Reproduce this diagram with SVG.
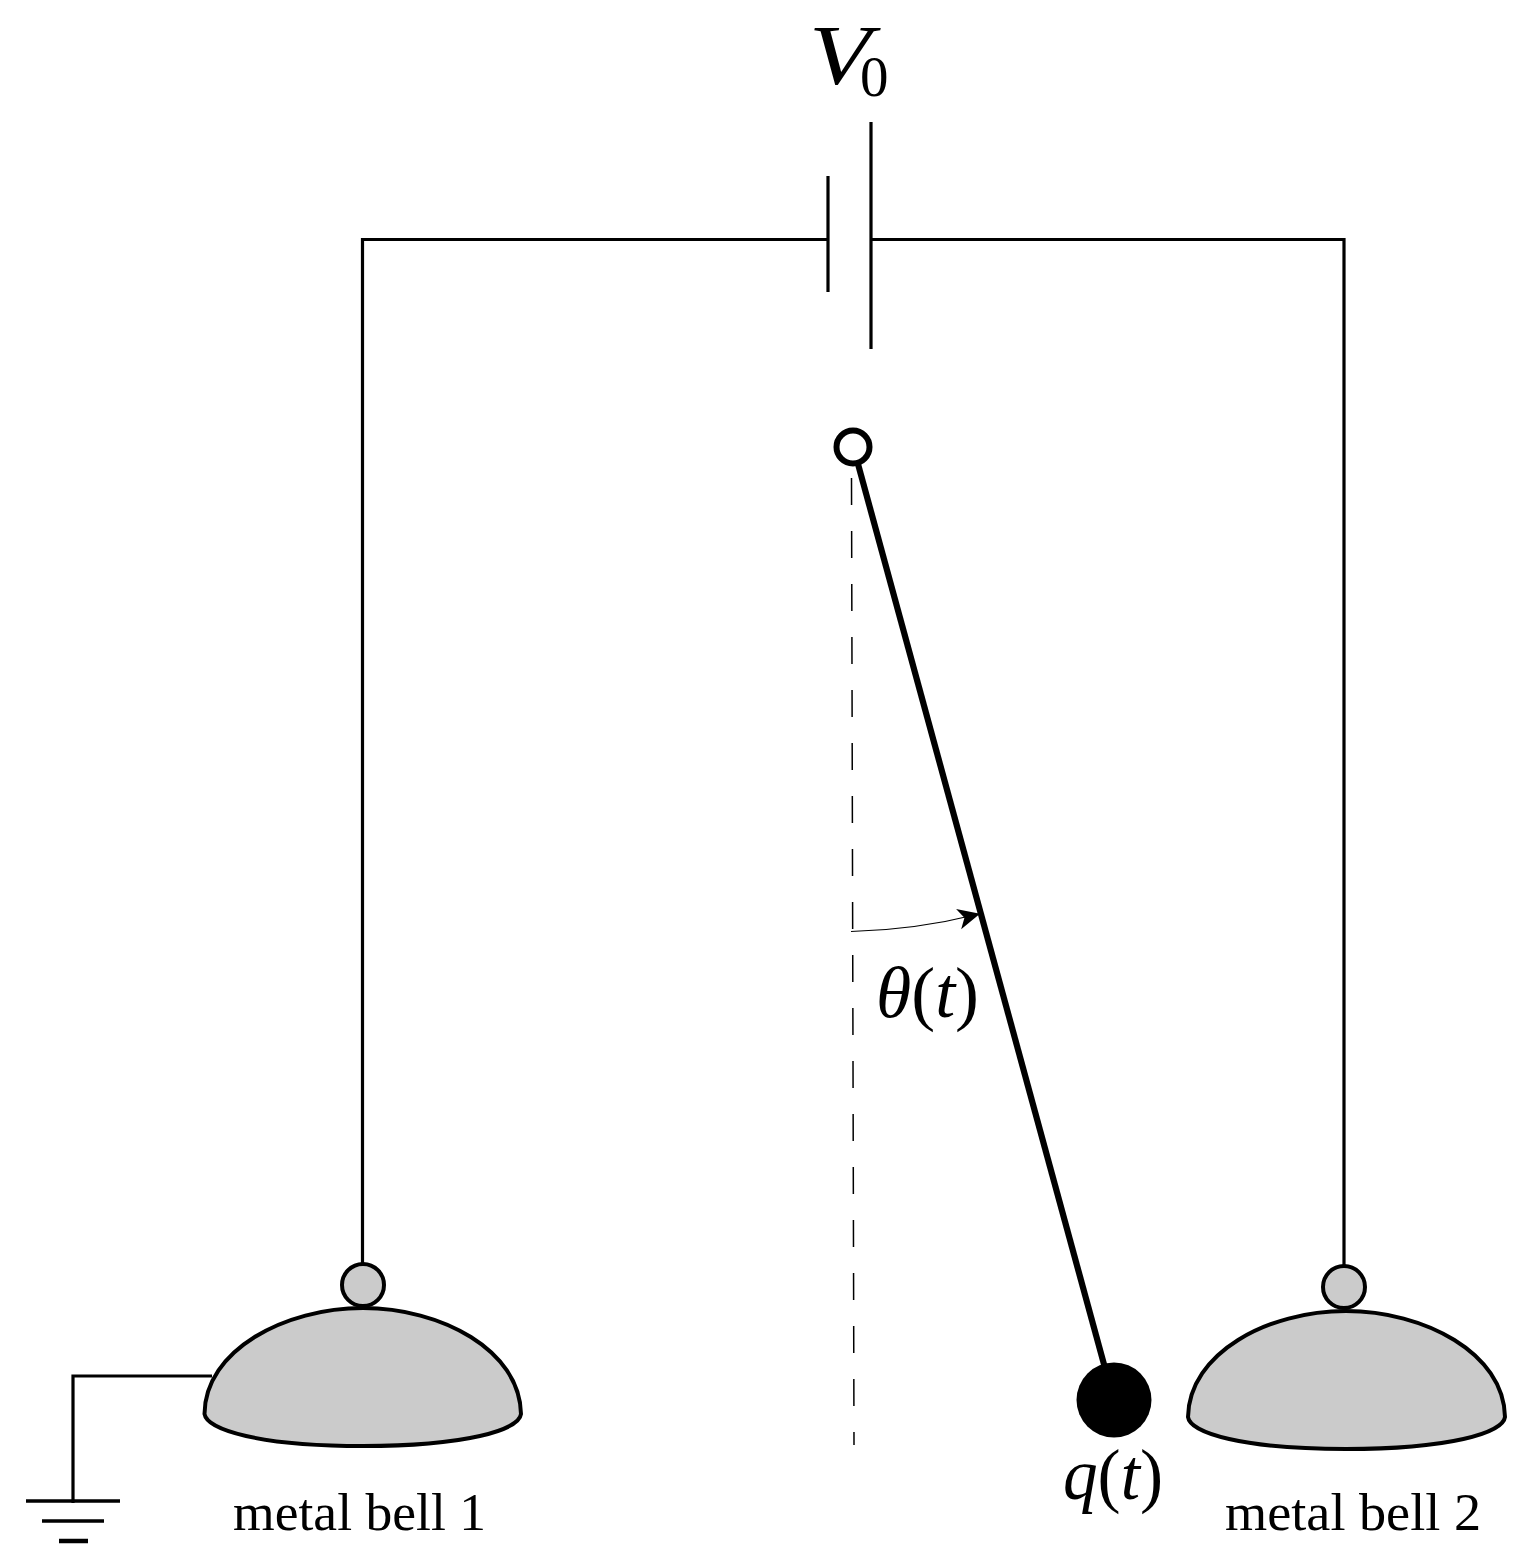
<svg xmlns="http://www.w3.org/2000/svg" width="1532" height="1567" viewBox="0 0 1532 1567">
<style>
.w{fill:none;stroke:#000;stroke-width:3.200}
.b{fill:#cbcbcb;stroke:#000;stroke-width:4}
text{font-family:"Liberation Serif","Times New Roman",serif;fill:#000}
.i{font-style:italic}
.l{font-size:53px}
</style>
<defs>
<marker id="ah" markerUnits="userSpaceOnUse" markerWidth="24" markerHeight="22" refX="21" refY="11" orient="auto"><path d="M0 0.500L22 11L0 21.500L6 11Z" fill="#000"/></marker>
</defs>
<rect width="1532" height="1567" fill="#fff"/>
<g id="connectors">
<path class="w" d="M362.500 1266V239.500H828"/>
<path class="w" d="M872 239.500H1344V1268"/>
<path class="w" d="M73 1503V1376H212"/>
<path d="M851.500 478L854 1445" fill="none" stroke="#000" stroke-width="1.500" stroke-dasharray="27 26"/>
<path d="M858 464L1105 1368" fill="none" stroke="#000" stroke-width="6.200"/>
<path d="M851 931.500Q915 930 979 914" fill="none" stroke="#000" stroke-width="1.200" marker-end="url(#ah)"/>
</g>
<g id="battery">
<path class="w" d="M828 176V292M871 122V349"/>
<text class="i" x="809" y="84" font-size="84" textLength="62" lengthAdjust="spacingAndGlyphs">V</text>
<text x="860" y="96" font-size="57">0</text>
</g>
<g id="pivot"><circle cx="853" cy="447" r="16.500" fill="#fff" stroke="#000" stroke-width="6"/></g>
<g id="charge"><circle cx="1114" cy="1400" r="37.500" fill="#000"/>
<text x="1063" y="1499" font-size="72" textLength="100" lengthAdjust="spacingAndGlyphs"><tspan class="i">q</tspan>(<tspan class="i">t</tspan>)</text></g>
<g id="angle"><text x="876" y="1017" font-size="72" textLength="103" lengthAdjust="spacingAndGlyphs"><tspan class="i">θ</tspan>(<tspan class="i">t</tspan>)</text></g>
<g id="bell1">
<path class="b" d="M204.500 1414C205 1350 285 1308 363 1308C441 1308 520 1350 521 1414C519 1430 466 1446 363 1446C260 1446 207 1430 204.500 1414Z"/>
<circle class="b" cx="363" cy="1285" r="21"/>
<text class="l" x="233" y="1530" textLength="253" lengthAdjust="spacingAndGlyphs">metal bell 1</text>
</g>
<g id="bell2">
<path class="b" d="M1188 1417C1189 1353 1268 1311 1346 1311C1424 1311 1504 1353 1505 1417C1503 1433 1449 1449 1346 1449C1243 1449 1190 1433 1188 1417Z"/>
<circle class="b" cx="1344" cy="1287" r="21"/>
<text class="l" x="1225" y="1530" textLength="256" lengthAdjust="spacingAndGlyphs">metal bell 2</text>
</g>
<g id="ground">
<path fill="none" stroke="#000" stroke-width="3.500" d="M26 1501H120M42 1521H104"/>
<path fill="none" stroke="#000" stroke-width="4.500" d="M59 1541H88"/>
</g>
</svg>
